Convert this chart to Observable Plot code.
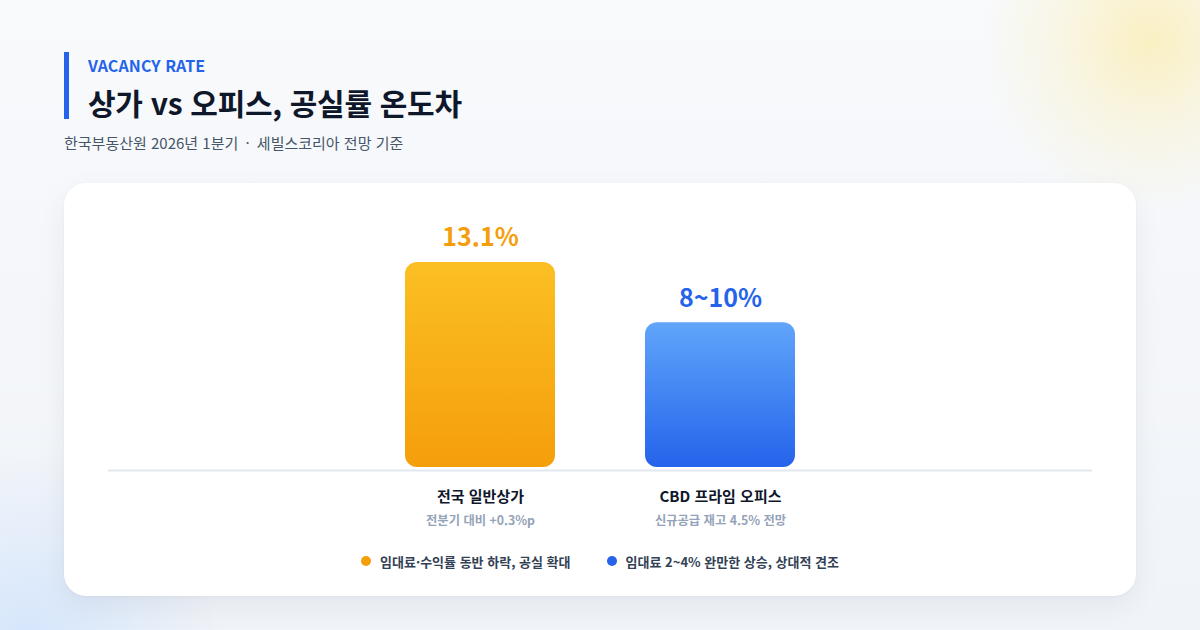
<!DOCTYPE html>
<html lang="ko">
<head>
<meta charset="utf-8">
<script src="https://cdn.jsdelivr.net/npm/d3@7"></script>
<script src="https://cdn.jsdelivr.net/npm/@observablehq/plot@0.6"></script>
<style>
  html, body { margin: 0; padding: 0; }
  body {
    width: 1200px; height: 630px; overflow: hidden; position: relative;
    font-family: "Noto Sans CJK KR", "Noto Sans", sans-serif;
    background:
      radial-gradient(circle at 1150px 40px, rgba(253,230,138,0.5) 0, rgba(253,230,138,0.2) 90px, rgba(253,230,138,0) 170px),
      radial-gradient(circle at 30px 640px, rgba(191,219,254,0.55) 0, rgba(191,219,254,0) 190px),
      linear-gradient(180deg, #f8fafc 0%, #f0f3f8 100%);
  }
  .accent { position: absolute; left: 64px; top: 52px; width: 5px; height: 67px; background: #2563eb; }
  .eyebrow { position: absolute; left: 88px; top: 54px; font-size: 16px; font-weight: 700; color: #2563eb; letter-spacing: 0.1px; line-height: 22px; }
  .title { position: absolute; left: 88px; top: 81px; font-size: 30px; font-weight: 700; color: #0f172a; line-height: 42px; letter-spacing: -0.3px; }
  .subtitle { position: absolute; left: 64px; top: 132px; font-size: 15px; color: #475569; line-height: 22px; }
  .subtitle .sep { margin: 0 3px; }
  .card {
    position: absolute; left: 64px; top: 183px; width: 1072px; height: 413px;
    background: #fff; border-radius: 22px;
    box-shadow: 0 10px 30px rgba(15,23,42,0.06), 0 1px 3px rgba(15,23,42,0.04);
  }
  #chart { position: absolute; left: 0; top: 0; }
  .legend {
    position: absolute; left: 0; top: 368px; width: 1072px; height: 20px;
    display: flex; justify-content: center; align-items: center; gap: 36px;
    font-size: 13px; font-weight: 600; color: #334155;
  }
  .legend .item { display: flex; align-items: center; gap: 9px; }
  .legend .dot { width: 10px; height: 10px; border-radius: 50%; display: inline-block; }
</style>
</head>
<body>
<div class="accent"></div>
<div class="eyebrow">VACANCY RATE</div>
<div class="title">상가 vs 오피스, 공실률 온도차</div>
<div class="subtitle">한국부동산원 2026년 1분기 <span class="sep">·</span> 세빌스코리아 전망 기준</div>
<div class="card">
  <div id="chart"></div>
  <div class="legend" id="legend"></div>
</div>
<script>
const categories = ["전국 일반상가", "CBD 프라임 오피스"];
const values = [13.1, 9.3];
const valueLabels = ["13.1%", "8~10%"];
const notes = ["전분기 대비 +0.3%p", "신규공급 재고 4.5% 전망"];
const legendItems = ["임대료·수익률 동반 하락, 공실 확대", "임대료 2~4% 완만한 상승, 상대적 견조"];
const solidColors = ["#f59e0b", "#2563eb"];
const gradients = [["#fbbf24", "#f59e0b"], ["#60a5fa", "#2563eb"]];

const data = categories.map((c, i) => ({
  cat: c, value: values[i], label: valueLabels[i], note: notes[i], i
}));

const marks = [
  Plot.ruleY([0], {stroke: "#e2e8f0", strokeWidth: 2})
];
data.forEach((d, i) => {
  marks.push(Plot.barY([d], {
    x: "cat", y: "value", fill: `url(#grad${i})`,
    insetBottom: 3, rx: 12
  }));
  marks.push(Plot.text([d], {
    x: "cat", y: "value", text: "label", fill: solidColors[i],
    dy: -16, lineAnchor: "bottom", fontSize: 25, fontWeight: 700
  }));
});
marks.push(Plot.text(data, {
  x: "cat", y: () => 0, text: "cat", fill: "#0f172a",
  dy: 27, lineAnchor: "middle", fontSize: 15, fontWeight: 700
}));
marks.push(Plot.text(data, {
  x: "cat", y: () => 0, text: "note", fill: "#94a3b8",
  dy: 51, lineAnchor: "middle", fontSize: 12.3, fontWeight: 600
}));

const chart = Plot.plot({
  width: 1072,
  height: 360,
  marginLeft: 44,
  marginRight: 44,
  marginTop: 0,
  marginBottom: 73,
  style: {background: "transparent", fontFamily: "'Noto Sans CJK KR', sans-serif", overflow: "visible"},
  x: {domain: categories, paddingInner: 0.375, paddingOuter: 1.2375, axis: null},
  y: {domain: [0, 18.07], axis: null},
  marks
});

const defs = d3.select(chart).insert("defs", ":first-child");
gradients.forEach((g, i) => {
  const lg = defs.append("linearGradient").attr("id", `grad${i}`)
    .attr("x1", 0).attr("y1", 0).attr("x2", 0).attr("y2", 1);
  lg.append("stop").attr("offset", "0%").attr("stop-color", g[0]);
  lg.append("stop").attr("offset", "100%").attr("stop-color", g[1]);
});
document.getElementById("chart").appendChild(chart);

const legend = d3.select("#legend");
legendItems.forEach((t, i) => {
  const it = legend.append("div").attr("class", "item");
  it.append("span").attr("class", "dot").style("background", solidColors[i]);
  it.append("span").text(t);
});
</script>
</body>
</html>
